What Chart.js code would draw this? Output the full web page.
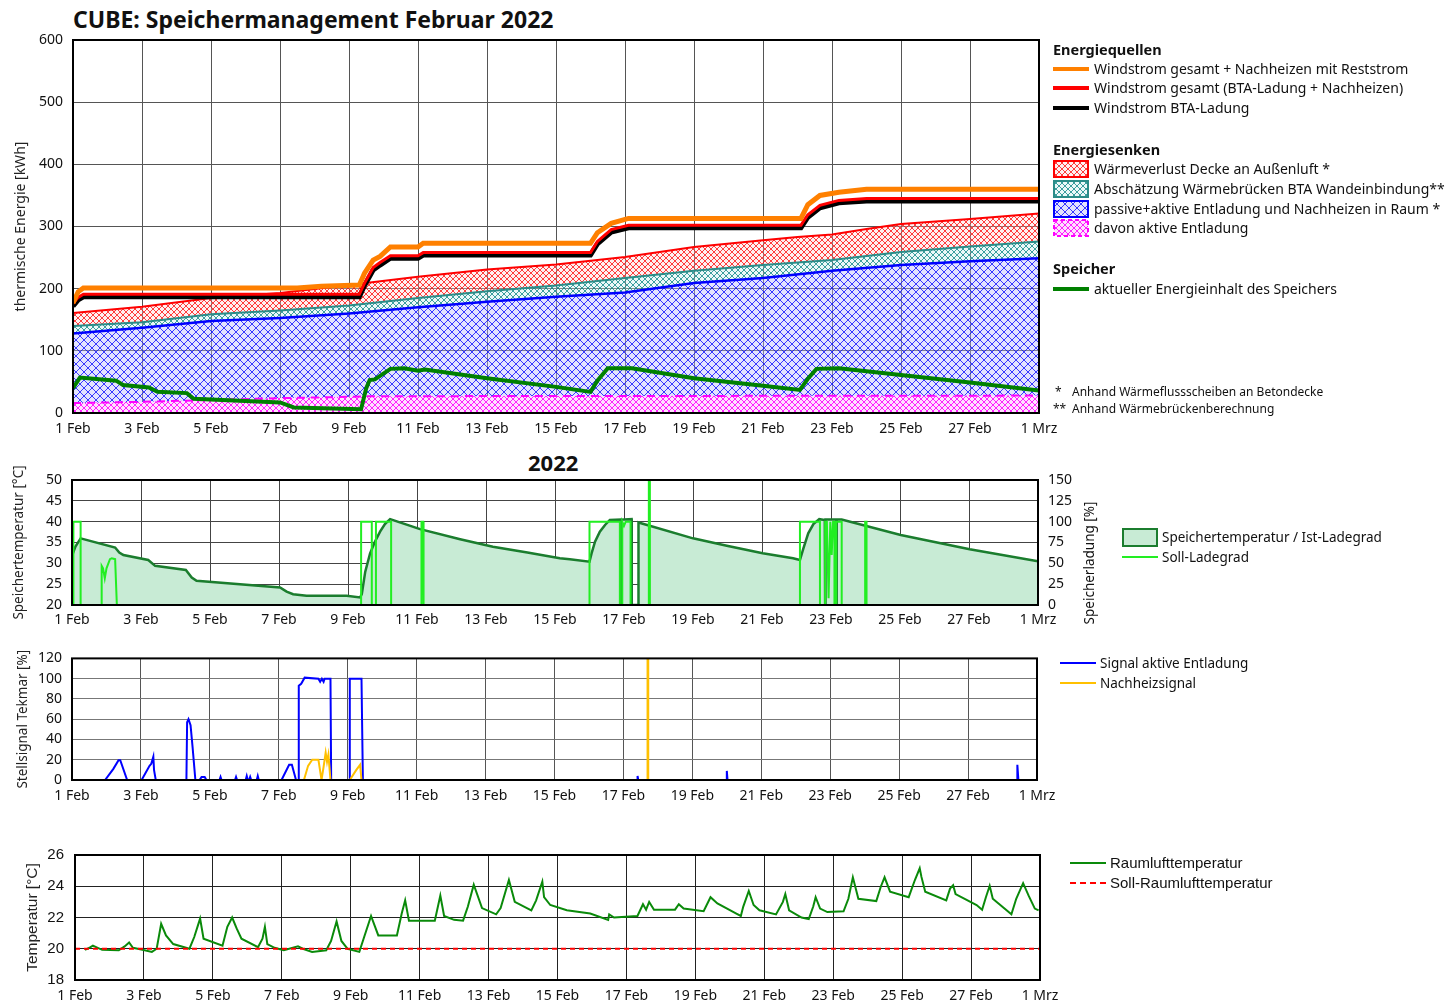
<!DOCTYPE html>
<html lang="de">
<head>
<meta charset="utf-8">
<title>CUBE: Speichermanagement Februar 2022</title>
<script src="https://cdn.jsdelivr.net/npm/chart.js@4.4.1/dist/chart.umd.min.js"></script>
<style>
  body { margin:0; background:#fff; width:1456px; height:1005px; overflow:hidden; position:relative;
         font-family:"Noto Sans", sans-serif; color:#111; }
  canvas.cv { position:absolute; left:0; }
  .t { position:absolute; white-space:nowrap; line-height:20px; }
  .h { font-weight:bold; font-size:14.5px; }
  .i { font-size:14px; }
  .sw { position:absolute; }
  .fn { position:absolute; white-space:nowrap; font-size:12px; line-height:16px; }
</style>
</head>
<body>

<div class="t" style="left:73px;top:6px;font-weight:bold;font-size:23px;line-height:26px;">CUBE: Speichermanagement Februar 2022</div>
<canvas id="c1" class="cv" width="1456" height="440" style="top:0"></canvas>

<div class="t" style="left:528px;top:449px;font-weight:bold;font-size:22px;line-height:26px;">2022</div>
<canvas id="c2" class="cv" width="1456" height="185" style="top:445px"></canvas>
<div class="t" style="left:1089px;top:563px;font-size:13.5px;transform:translate(-50%,-50%) rotate(-90deg);">Speicherladung [%]</div>

<canvas id="c3" class="cv" width="1456" height="170" style="top:640px"></canvas>
<canvas id="c4" class="cv" width="1456" height="170" style="top:835px"></canvas>

<!-- Legende Energiebilanz -->
<div class="t h" style="left:1053px;top:39px;">Energiequellen</div>
<div class="sw" style="left:1053px;top:67px;width:36px;height:4px;background:#ff8000"></div>
<div class="t i" style="left:1094px;top:59px;">Windstrom gesamt + Nachheizen mit Reststrom</div>
<div class="sw" style="left:1053px;top:86px;width:36px;height:4px;background:#ff0000"></div>
<div class="t i" style="left:1094px;top:78px;">Windstrom gesamt (BTA-Ladung + Nachheizen)</div>
<div class="sw" style="left:1053px;top:106px;width:36px;height:4px;background:#000"></div>
<div class="t i" style="left:1094px;top:98px;">Windstrom BTA-Ladung</div>

<div class="t h" style="left:1053px;top:139px;">Energiesenken</div>
<canvas id="swRed" class="sw" width="36" height="18" style="left:1053px;top:160px"></canvas>
<div class="t i" style="left:1094px;top:159px;">Wärmeverlust Decke an Außenluft *</div>
<canvas id="swTeal" class="sw" width="36" height="18" style="left:1053px;top:180px"></canvas>
<div class="t i" style="left:1094px;top:179px;">Abschätzung Wärmebrücken BTA Wandeinbindung**</div>
<canvas id="swBlue" class="sw" width="36" height="18" style="left:1053px;top:200px"></canvas>
<div class="t i" style="left:1094px;top:199px;">passive+aktive Entladung und Nachheizen in Raum *</div>
<canvas id="swMag" class="sw" width="36" height="18" style="left:1053px;top:219px"></canvas>
<div class="t i" style="left:1094px;top:218px;">davon aktive Entladung</div>

<div class="t h" style="left:1053px;top:258px;">Speicher</div>
<div class="sw" style="left:1053px;top:287px;width:36px;height:4px;background:#008000"></div>
<div class="t i" style="left:1094px;top:279px;">aktueller Energieinhalt des Speichers</div>

<div class="fn" style="left:1055px;top:384px;">*</div>
<div class="fn" style="left:1072px;top:384px;">Anhand Wärmeflussscheiben an Betondecke</div>
<div class="fn" style="left:1053px;top:401px;">**</div>
<div class="fn" style="left:1072px;top:401px;">Anhand Wärmebrückenberechnung</div>

<!-- Legende Speichertemperatur -->
<div class="sw" style="left:1122px;top:528px;width:32px;height:15px;background:#c8ebd5;border:2px solid #1b7d2e"></div>
<div class="t" style="left:1162px;top:527px;font-size:13.5px;">Speichertemperatur / Ist-Ladegrad</div>
<div class="sw" style="left:1122px;top:556px;width:36px;height:2px;background:#22ee22"></div>
<div class="t" style="left:1162px;top:547px;font-size:13.5px;">Soll-Ladegrad</div>

<!-- Legende Stellsignal -->
<div class="sw" style="left:1060px;top:662px;width:36px;height:2px;background:#0000ff"></div>
<div class="t" style="left:1100px;top:653px;font-size:13.5px;">Signal aktive Entladung</div>
<div class="sw" style="left:1060px;top:682px;width:36px;height:2px;background:#ffc000"></div>
<div class="t" style="left:1100px;top:673px;font-size:13.5px;">Nachheizsignal</div>

<!-- Legende Raumluft -->
<div class="sw" style="left:1070px;top:862px;width:36px;height:2px;background:#0a8a0a"></div>
<div class="t" style="left:1110px;top:853px;font-family:'Liberation Sans',Arial,sans-serif;font-size:15px;">Raumlufttemperatur</div>
<div class="sw" style="left:1070px;top:882px;width:36px;height:0;border-top:2px dashed #ff0000"></div>
<div class="t" style="left:1110px;top:873px;font-family:'Liberation Sans',Arial,sans-serif;font-size:15px;">Soll-Raumlufttemperatur</div>

<script>
// ---------- Achsen ----------
const dayTicks = ['1 Feb','3 Feb','5 Feb','7 Feb','9 Feb','11 Feb','13 Feb','15 Feb',
                  '17 Feb','19 Feb','21 Feb','23 Feb','25 Feb','27 Feb','1 Mrz'];

// ---------- Energiebilanz [kWh], x = Tage ab 1. Februar ----------
const windGesamtNachheizen = [[0,177],[0.15,195],[0.3,201],[6.5,201],[7.2,204],[8.3,206],[8.45,225],[8.7,246],[8.9,252],[9.2,267],[10,267],[10.15,273],[15.0,273],[15.2,290],[15.6,305],[16.1,313],[21.1,313],[21.3,335],[21.65,350],[22.2,355],[23,360],[28,360]];
const windGesamt = [[0,176],[0.15,186],[0.3,191],[8.3,191],[8.45,209],[8.7,234],[8.9,242],[9.2,253],[10,253],[10.15,258],[15.0,258],[15.2,276],[15.6,295],[16.1,302],[21.1,302],[21.3,319],[21.65,334],[22.2,342],[23,345],[28,345]];
const windBTA = [[0,172],[0.15,182],[0.3,187],[8.3,187],[8.45,205],[8.7,230],[8.9,238],[9.2,249],[10,249],[10.15,254],[15.0,254],[15.2,272],[15.6,291],[16.1,298],[21.1,298],[21.3,315],[21.65,330],[22.2,338],[23,341],[28,341]];
const verlustDecke = [[0,161],[2,171],[4,185],[6,193],[8,206],[10,219],[12,231],[14,239],[16,251],[18,267],[20,278],[21,283],[22,287],[23,296],[24,304],[26,312],[28,321]];
const waermebruecken = [[0,140],[2,146],[4,159],[6,165],[8,173],[10,185],[12,196],[14,205],[16,217],[18,229],[20,238],[22,246],[24,259],[26,268],[28,276]];
const entladungRaum = [[0,128],[2,137],[4,148],[6,153],[8,160],[10,170],[12,179],[14,187],[16,194],[18,209],[20,217],[22,229],[24,238],[26,244],[28,249]];
const aktiveEntladung = [[0,16],[2,18],[4,21],[6,24],[8,26],[8.5,27],[28,28]];
const energieinhalt = [[0,40],[0.2,57],[1.25,52],[1.45,45],[2.2,41],[2.45,34],[3.3,32],[3.5,23],[6.0,17],[6.4,9],[8.35,6],[8.5,40],[8.6,53],[8.75,54],[9.2,71],[9.6,72],[10.0,68],[10.2,70],[12,56],[14,42],[15.0,34],[15.2,52],[15.5,72],[16.2,72],[18,56],[20,44],[21.07,37],[21.3,55],[21.55,71],[22.2,72],[24,61],[26,49],[28,36]];

// ---------- Speicher: Temperatur [°C] und Soll-Ladegrad [%] ----------
const speicherTemp = [[0,31.8],[0.1,34.0],[0.25,36.0],[1.25,33.8],[1.37,32.6],[1.49,32.0],[2.21,30.8],[2.41,29.4],[3.3,28.4],[3.47,26.6],[3.61,25.8],[6.03,24.2],[6.22,23.2],[6.41,22.6],[6.8,22.2],[7.96,22.2],[8.35,21.8],[8.4,22.6],[8.5,28.0],[8.64,32.4],[8.78,35.2],[8.93,37.6],[9.07,39.4],[9.22,40.6],[10.09,38.2],[11.25,35.8],[12.2,34.0],[13.2,32.6],[14.14,31.2],[14.43,31.0],[15.0,30.4],[15.06,32.4],[15.16,35.2],[15.3,37.6],[15.45,39.2],[15.59,40.4],[15.9,40.5],[15.91,20],[15.92,40.5],[16.22,40.6],[16.225,20],[16.415,20],[16.42,39.8],[18.0,36.0],[18.98,34.2],[20.02,32.4],[20.9,31.2],[21.1,30.8],[21.2,33.6],[21.34,37.2],[21.49,39.4],[21.66,40.6],[21.82,40.4],[21.83,20],[21.84,40.5],[22.15,40.5],[22.16,20],[22.17,40.5],[22.31,40.5],[24.02,36.8],[26.02,33.4],[28,30.5]];
const sollLadegrad = [[0,0],[0.04,0],[0.04,100],[0.25,100],[0.25,0],[0.86,0],[0.86,47],[0.9,44],[0.95,32],[1.0,44],[1.1,55],[1.15,56],[1.25,55],[1.3,0],[8.38,0],[8.38,100],[8.69,100],[8.69,0],[8.81,0],[8.81,100],[9.25,100],[9.25,0],[10.12,0],[10.13,100],[10.18,100],[10.19,0],[15.0,0],[15.0,100],[15.88,100],[15.88,0],[15.95,0],[15.95,100],[16.0,95],[16.05,100],[16.19,100],[16.19,0],[16.72,0],[16.72,150],[16.75,150],[16.75,0],[21.1,0],[21.1,100],[21.68,100],[21.68,0],[21.83,0],[21.83,100],[21.88,100],[21.93,8],[21.98,100],[22.02,60],[22.06,100],[22.1,100],[22.1,0],[22.15,0],[22.15,100],[22.31,100],[22.31,0],[22.99,0],[22.99,100],[23.03,100],[23.03,0],[28,0]];

// ---------- Stellsignal Tekmar [%] ----------
const signalEntladung = [[0,0],[0.96,0],[1.2,11],[1.35,19.5],[1.4,19.5],[1.6,0],[2.02,0],[2.25,14],[2.3,16],[2.36,23],[2.38,10],[2.43,0],[3.32,0],[3.34,57],[3.38,60],[3.44,54],[3.5,32],[3.58,0],[3.7,0],[3.76,3],[3.85,3],[3.9,0],[4.28,0],[4.31,3],[4.34,0],[4.73,0],[4.76,3],[4.79,0],[5.04,0],[5.07,4],[5.1,0],[5.14,0],[5.17,3],[5.2,0],[5.36,0],[5.39,4],[5.42,0],[6.08,0],[6.3,15],[6.38,15],[6.5,0],[6.57,0],[6.58,93],[6.65,95],[6.75,101],[7.15,100],[7.2,97],[7.25,100],[7.3,97],[7.33,100],[7.5,100],[7.52,0],[8.05,0],[8.06,100],[8.4,100],[8.44,0],[16.4,0],[16.41,4],[16.43,0],[18.99,0],[19.0,9],[19.02,0],[27.42,0],[27.43,15],[27.46,0],[28,0]];
const nachheizsignal = [[0,0],[6.73,0],[6.85,14],[6.97,20],[7.15,20],[7.24,0],[7.3,13],[7.36,27],[7.4,18],[7.44,25],[7.5,0],[8.06,0],[8.25,10],[8.36,15],[8.4,0],[16.7,0],[16.7,130],[16.72,130],[16.72,0],[28,0]];

// ---------- Raumlufttemperatur [°C] ----------
const raumluft = [[0.29,19.93],[0.45,20.1],[0.52,20.2],[0.66,20.06],[0.79,19.93],[1.27,19.9],[1.44,20.15],[1.57,20.4],[1.68,20.06],[1.96,19.93],[2.23,19.8],[2.37,20.0],[2.5,21.6],[2.64,20.85],[2.85,20.3],[3.32,20.0],[3.46,20.75],[3.63,21.93],[3.73,20.64],[4.28,20.2],[4.42,21.4],[4.56,22.0],[4.69,21.3],[4.83,20.64],[5.31,20.1],[5.44,20.64],[5.51,21.4],[5.58,20.3],[5.79,20.06],[6.06,19.9],[6.47,20.15],[6.61,20.0],[6.88,19.8],[7.29,19.9],[7.43,20.5],[7.59,21.75],[7.73,20.5],[7.91,20.0],[8.25,19.8],[8.39,20.75],[8.59,22.1],[8.8,20.85],[9.34,20.85],[9.48,22.25],[9.58,23.1],[9.69,21.8],[10.44,21.8],[10.6,23.4],[10.71,22.1],[11.0,21.85],[11.26,21.8],[11.4,22.7],[11.57,24.1],[11.81,22.6],[12.22,22.2],[12.35,22.6],[12.59,24.4],[12.76,23.0],[13.24,22.46],[13.38,23.1],[13.56,24.3],[13.61,23.3],[13.79,22.8],[14.27,22.46],[14.95,22.25],[15.47,21.85],[15.5,22.2],[15.64,22.0],[16.32,22.1],[16.48,22.85],[16.57,22.5],[16.66,23.0],[16.8,22.5],[17.41,22.5],[17.52,22.85],[17.66,22.57],[18.24,22.4],[18.44,23.3],[18.64,22.9],[19.19,22.25],[19.32,22.1],[19.39,22.7],[19.55,23.7],[19.69,22.8],[19.86,22.46],[20.34,22.2],[20.54,23.0],[20.61,23.5],[20.72,22.46],[21.08,22.0],[21.29,21.9],[21.42,22.7],[21.49,23.3],[21.62,22.57],[21.83,22.35],[22.3,22.4],[22.44,23.2],[22.57,24.57],[22.73,23.2],[23.25,23.05],[23.38,23.97],[23.49,24.57],[23.65,23.65],[24.19,23.3],[24.37,24.4],[24.51,25.15],[24.56,24.6],[24.67,23.65],[25.28,23.1],[25.39,23.85],[25.48,24.07],[25.55,23.5],[26.16,22.8],[26.32,22.5],[26.43,23.3],[26.54,24.03],[26.63,23.2],[27.17,22.2],[27.31,23.2],[27.51,24.2],[27.67,23.4],[27.85,22.57],[27.96,22.46]];
const sollRaumluft = [[0,20],[28,20]];

// ---------- Hilfsfunktionen ----------
const xy = arr => arr.map(([x, y]) => ({ x, y }));
const NOTO = '"Noto Sans", sans-serif';
const ARIAL = '"Liberation Sans", Arial, sans-serif';

function hatch(line, bg, step, width) {
  const c = document.createElement('canvas');
  c.width = c.height = step;
  const g = c.getContext('2d');
  if (bg) { g.fillStyle = bg; g.fillRect(0, 0, step, step); }
  g.strokeStyle = line; g.lineWidth = width;
  g.beginPath();
  g.moveTo(0, 0); g.lineTo(step, step);
  g.moveTo(step, 0); g.lineTo(0, step);
  g.stroke();
  return g.createPattern(c, 'repeat');
}
const patRed  = hatch('rgba(255,0,0,0.75)',   'rgba(255,215,215,0.35)', 6, 1);
const patTeal = hatch('rgba(0,128,128,0.75)', 'rgba(200,235,235,0.35)', 6, 1);
const patBlue = hatch('rgba(0,0,255,0.75)',   'rgba(185,185,255,0.4)',  8, 1);
const patMag  = hatch('rgba(255,0,255,0.85)', 'rgb(255,225,255)',       6, 1);

function swatch(id, pat, color, dashed) {
  const c = document.getElementById(id), g = c.getContext('2d');
  g.fillStyle = pat; g.fillRect(1, 1, c.width - 2, c.height - 2);
  g.strokeStyle = color; g.lineWidth = 2;
  if (dashed) g.setLineDash([4, 3]);
  g.strokeRect(1, 1, c.width - 2, c.height - 2);
}
swatch('swRed', patRed, '#ff0000');
swatch('swTeal', patTeal, '#2a8c88');
swatch('swBlue', patBlue, '#0000ff');
swatch('swMag', patMag, '#ff00ff', true);

// Rahmen um die Zeichenfläche
const frame = {
  id: 'frame',
  afterDatasetsDraw(chart, args, opts) {
    const { ctx, chartArea: a } = chart;
    ctx.save();
    ctx.strokeStyle = opts.color || '#000';
    ctx.lineWidth = opts.width || 2;
    ctx.strokeRect(a.left, a.top, a.right - a.left, a.bottom - a.top);
    ctx.restore();
  }
};

function dayAxis(height, gridColor, padding) {
  return {
    type: 'linear', min: 0, max: 28,
    afterFit: s => { s.height = height; },
    afterBuildTicks: s => { s.ticks = dayTicks.map((_, i) => ({ value: i * 2 })); },
    ticks: { autoSkip: false, maxRotation: 0, padding: padding, color: '#111',
             font: { family: NOTO, size: 14 }, callback: v => dayTicks[Math.round(v / 2)] },
    grid: { color: gridColor, lineWidth: 1, drawTicks: false },
    border: { display: false }
  };
}
function valAxis(o) {
  return {
    type: 'linear', position: o.position || 'left', min: o.min, max: o.max,
    afterFit: s => { s.width = o.width; },
    ticks: { stepSize: o.step, padding: o.padding, color: '#111',
             font: { family: o.family || NOTO, size: o.size || 14 } },
    grid: o.grid === false ? { display: false, drawTicks: false }
                           : { color: o.gridColor, lineWidth: 1, drawTicks: false },
    border: { display: false },
    title: o.title ? { display: true, text: o.title, color: '#222',
                       font: { family: o.titleFamily || NOTO, size: o.titleSize },
                       padding: { top: o.titlePad, bottom: 0 } } : { display: false }
  };
}
function line(data, color, width, extra) {
  return Object.assign({ data: xy(data), borderColor: color, borderWidth: width,
    pointRadius: 0, tension: 0, fill: false }, extra || {});
}
const base = {
  responsive: false, animation: false, events: [],
  plugins: { legend: { display: false }, tooltip: { enabled: false },
             filler: { drawTime: 'beforeDatasetsDraw' } }
};

// ---------- 1) Energiebilanz ----------
new Chart(document.getElementById('c1'), {
  type: 'line',
  data: { datasets: [
    line(energieinhalt, '#008000', 4, { order: 0 }),
    line(windGesamtNachheizen, '#ff8000', 5, { order: 1 }),
    line(windGesamt, '#ff0000', 3, { order: 2 }),
    line(windBTA, '#000000', 5, { order: 3 }),
    line(verlustDecke, '#ff0000', 2, { order: 4, fill: { target: 5 }, backgroundColor: patRed }),
    line(waermebruecken, '#2a8c88', 2, { order: 5, fill: { target: 7 }, backgroundColor: patTeal }),
    line(aktiveEntladung, '#ff00ff', 2, { order: 6, fill: 'origin', backgroundColor: patMag, borderDash: [8, 6] }),
    line(entladungRaum, '#0000ff', 2.5, { order: 7, fill: 'origin', backgroundColor: patBlue })
  ]},
  options: Object.assign({}, base, {
    layout: { padding: { left: 0, top: 40, right: 417, bottom: 0 } },
    scales: {
      x: dayAxis(27, '#555', 8),
      y: valAxis({ min: 0, max: 600, step: 100, width: 73, padding: 10, gridColor: '#555',
                   title: 'thermische Energie [kWh]', titleSize: 14, titlePad: 13 })
    },
    plugins: Object.assign({}, base.plugins, { frame: { width: 2 } })
  }),
  plugins: [frame]
});

// ---------- 2) Speichertemperatur / Ladegrad ----------
new Chart(document.getElementById('c2'), {
  type: 'line',
  data: { datasets: [
    line(sollLadegrad, '#22ee22', 2, { yAxisID: 'yP', order: 0 }),
    line(speicherTemp, '#1b7d2e', 2.5, { yAxisID: 'yT', order: 1, fill: 'start', backgroundColor: '#c8ebd5' })
  ]},
  options: Object.assign({}, base, {
    layout: { padding: { left: 0, top: 35, right: 378, bottom: 0 } },
    scales: {
      x: dayAxis(25, '#444', 7),
      yT: valAxis({ min: 20, max: 50, step: 5, width: 72, padding: 10, gridColor: '#444',
                    title: 'Speichertemperatur [°C]', titleSize: 13.5, titlePad: 11 }),
      yP: valAxis({ position: 'right', min: 0, max: 150, step: 25, width: 40, padding: 10, grid: false })
    },
    plugins: Object.assign({}, base.plugins, { frame: { width: 2 } })
  }),
  plugins: [frame]
});

// ---------- 3) Stellsignal Tekmar ----------
new Chart(document.getElementById('c3'), {
  type: 'line',
  data: { datasets: [
    line(nachheizsignal, '#ffc000', 2, { order: 0 }),
    line(signalEntladung, '#0000ff', 2, { order: 1 })
  ]},
  options: Object.assign({}, base, {
    layout: { padding: { left: 0, top: 16, right: 419, bottom: 0 } },
    scales: {
      x: dayAxis(30, '#555', 8),
      y: valAxis({ min: 0, max: 120, step: 20, width: 72, padding: 10, gridColor: '#777',
                   title: 'Stellsignal Tekmar [%]', titleSize: 13.5, titlePad: 15 })
    },
    plugins: Object.assign({}, base.plugins, { frame: { width: 2 } })
  }),
  plugins: [frame]
});

// ---------- 4) Raumlufttemperatur ----------
new Chart(document.getElementById('c4'), {
  type: 'line',
  data: { datasets: [
    line(sollRaumluft, '#ff0000', 2, { order: 0, borderDash: [5, 4] }),
    line(raumluft, '#0a8a0a', 2, { order: 1 })
  ]},
  options: Object.assign({}, base, {
    layout: { padding: { left: 0, top: 20, right: 416, bottom: 0 } },
    scales: {
      x: dayAxis(25, '#222', 8),
      y: valAxis({ min: 18, max: 26, step: 2, width: 75, padding: 11, gridColor: '#222',
                   family: ARIAL, size: 15,
                   title: 'Temperatur [°C]', titleFamily: ARIAL, titleSize: 15.5, titlePad: 23 })
    },
    plugins: Object.assign({}, base.plugins, { frame: { width: 2 } })
  }),
  plugins: [frame]
});
</script>
</body>
</html>
